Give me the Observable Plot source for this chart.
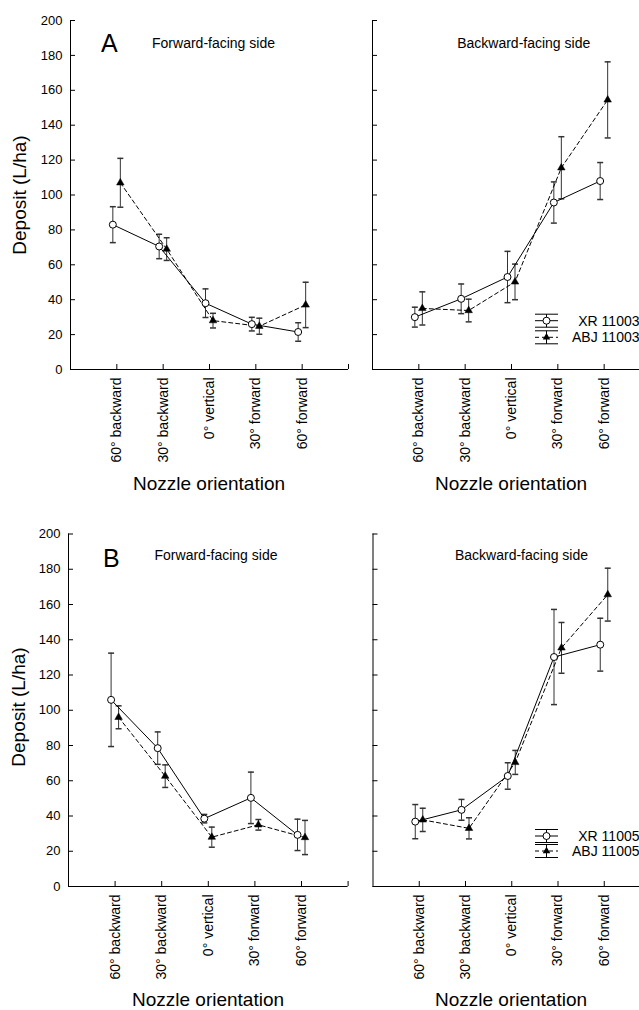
<!DOCTYPE html>
<html><head><meta charset="utf-8">
<script src="https://cdn.jsdelivr.net/npm/d3@7"></script>
<script src="https://cdn.jsdelivr.net/npm/@observablehq/plot@0.6"></script>
<style>
html,body{margin:0;padding:0;background:#fff;overflow:hidden}
#wrap{position:relative;width:639px;height:1010px;overflow:hidden;background:#fff}
#wrap svg{position:absolute}
</style></head><body><div id="wrap"></div>
<script>
// ---- data ----
const categories = ["60° backward", "30° backward", "0° vertical", "30° forward", "60° forward"];
const yTicks = [0, 20, 40, 60, 80, 100, 120, 140, 160, 180, 200];
const sideTitles = ["Forward-facing side", "Backward-facing side"];
const panelLetters = ["A", "B"];
const legendA = ["XR 11003", "ABJ 11003"];
const legendB = ["XR 11005", "ABJ 11005"];
const xTitle = "Nozzle orientation";
const yTitle = "Deposit (L/ha)";

// A, forward-facing side
const aFwdXR = [83, 70.5, 38, 26, 21.5];
const aFwdXRse = [10.3, 7, 8.2, 3.9, 5.3];
const aFwdABJ = [107, 69, 28, 24.8, 37];
const aFwdABJse = [14, 6.5, 4.2, 4.6, 13];
// A, backward-facing side
const aBwdXR = [30, 40.5, 53, 95.7, 108];
const aBwdXRse = [5.7, 8.5, 14.7, 11.8, 10.6];
const aBwdABJ = [35, 33.8, 50.2, 115.6, 154.5];
const aBwdABJse = [9.5, 6.5, 10.2, 17.8, 21.8];
// B, forward-facing side
const bFwdXR = [105.9, 78.5, 38.5, 50.3, 29.3];
const bFwdXRse = [26.5, 9.2, 2.4, 14.6, 8.9];
const bFwdABJ = [96, 62.6, 28, 35, 27.8];
const bFwdABJse = [6.5, 6.4, 5.7, 3, 9.7];
// B, backward-facing side
const bBwdXR = [36.8, 43.5, 62.7, 130.2, 137.2];
const bBwdXRse = [9.7, 5.9, 7.5, 27, 15];
const bBwdABJ = [37.8, 33, 70.4, 135.4, 165.6];
const bBwdABJse = [6.6, 6, 6.8, 14.4, 15];

// ---- drawing ----
const FONT = "'Liberation Sans', Arial, sans-serif";
const wrap = document.getElementById("wrap");
const capSymbol = {draw(ctx, size) { const r = Math.sqrt(size / Math.PI); ctx.moveTo(-r, 0); ctx.lineTo(r, 0); }};

function rows(means, ses) {
  return categories.map((c, i) => ({pos: i + 1, cat: c, mean: means[i], se: ses[i]}));
}

function panel({xr, xrSe, abj, abjSe, showY, left, top, width, height, marginLeft, marginRight, marginTop, marginBottom}) {
  const r1 = rows(xr, xrSe), r2 = rows(abj, abjSe);
  const fw = width - marginLeft - marginRight;
  const fh = height - marginTop - marginBottom;
  const dxA = -4, dxB = 3.5;
  const errMarks = (data, dx) => [
    Plot.ruleX(data, {x: "pos", y1: d => d.mean - d.se, y2: d => d.mean + d.se, dx, stroke: "#333", strokeWidth: 1}),
    Plot.dot(data, {x: "pos", y: d => d.mean + d.se, dx, symbol: capSymbol, r: 3, stroke: "#333", fill: "none"}),
    Plot.dot(data, {x: "pos", y: d => d.mean - d.se, dx, symbol: capSymbol, r: 3, stroke: "#333", fill: "none"})
  ];
  const svg = Plot.plot({
    width, height, marginLeft, marginRight, marginTop, marginBottom,
    style: {fontFamily: FONT, fontSize: "13px", color: "#000", background: "transparent", overflow: "visible"},
    x: {domain: [0, 6], axis: null},
    y: {domain: [0, 200], axis: null},
    marks: [
      Plot.ruleX([0], {stroke: "#000"}),
      Plot.ruleY([0], {stroke: "#000"}),
      Plot.tickY(yTicks, {y: d => d, insetRight: fw - 5, stroke: "#000"}),
      Plot.tickX([1, 2, 3, 4, 5, 6], {x: d => d, insetTop: fh - 5, stroke: "#000"}),
      showY ? Plot.axisY({ticks: yTicks, tickSize: 0, tickPadding: 8, fontSize: 13, label: null}) : null,
      Plot.axisX({ticks: [1, 2, 3, 4, 5], tickFormat: d => categories[d - 1], tickRotate: -90, tickSize: 0, tickPadding: 8, fontSize: 14, label: null}),
      ...errMarks(r1, dxA),
      ...errMarks(r2, dxB),
      Plot.line(r1, {x: "pos", y: "mean", dx: dxA, stroke: "#000", strokeWidth: 1}),
      Plot.line(r2, {x: "pos", y: "mean", dx: dxB, stroke: "#000", strokeWidth: 1, strokeDasharray: "4,3"}),
      Plot.dot(r1, {x: "pos", y: "mean", dx: dxA, r: 3.5, fill: "#fff", stroke: "#000", strokeWidth: 1}),
      Plot.dot(r2, {x: "pos", y: "mean", dx: dxB, r: 2.8, symbol: "triangle", fill: "#000", stroke: "#000", strokeWidth: 0.5})
    ]
  });
  svg.style.left = left + "px";
  svg.style.top = top + "px";
  wrap.appendChild(svg);
}

// top row: frame y 20..369
panel({xr: aFwdXR, xrSe: aFwdXRse, abj: aFwdABJ, abjSe: aFwdABJse, showY: true,
  left: 0, top: 0, width: 350, height: 500, marginLeft: 70, marginRight: 2, marginTop: 20, marginBottom: 131});
panel({xr: aBwdXR, xrSe: aBwdXRse, abj: aBwdABJ, abjSe: aBwdABJse, showY: false,
  left: 302, top: 0, width: 350, height: 500, marginLeft: 70, marginRight: 2, marginTop: 20, marginBottom: 131});
// bottom row: frame y 533.5..886
panel({xr: bFwdXR, xrSe: bFwdXRse, abj: bFwdABJ, abjSe: bFwdABJse, showY: true,
  left: 0, top: 500, width: 350, height: 510, marginLeft: 68, marginRight: 2.4, marginTop: 33.5, marginBottom: 124});
panel({xr: bBwdXR, xrSe: bBwdXRse, abj: bBwdABJ, abjSe: bBwdABJse, showY: false,
  left: 302, top: 500, width: 350, height: 510, marginLeft: 70.5, marginRight: 2, marginTop: 33.5, marginBottom: 124});

// ---- annotations & legends (overlay) ----
const ov = d3.select(wrap).append("svg")
  .attr("width", 639).attr("height", 1010)
  .style("left", "0px").style("top", "0px")
  .style("font-family", FONT).style("pointer-events", "none");

function txt(x, y, s, size, anchor, rot) {
  const t = ov.append("text").attr("x", x).attr("y", y).attr("font-size", size)
    .attr("text-anchor", anchor).attr("fill", "#000").text(s);
  if (rot) t.attr("transform", `rotate(${rot},${x},${y})`);
}
// row A
txt(101, 52, panelLetters[0], 25, "start");
txt(213.5, 48, sideTitles[0], 14, "middle");
txt(523.7, 48, sideTitles[1], 14, "middle");
txt(26, 195, yTitle, 19, "middle", -90);
txt(209, 490, xTitle, 19, "middle");
txt(511, 490, xTitle, 19, "middle");
// row B
txt(103, 567, panelLetters[1], 25, "start");
txt(216, 560, sideTitles[0], 14, "middle");
txt(521.5, 560, sideTitles[1], 14, "middle");
txt(24.5, 707, yTitle, 19, "middle", -90);
txt(208, 1006, xTitle, 19, "middle");
txt(511, 1006, xTitle, 19, "middle");

function legend(names, y0, y1) {
  const x0 = 535, x1 = 558, cx = (x0 + x1) / 2;
  [[y0, false], [y1, true]].forEach(([y, dashed], i) => {
    ov.append("line").attr("x1", x0).attr("x2", x1).attr("y1", y - 6.5).attr("y2", y - 6.5).attr("stroke", "#000");
    ov.append("line").attr("x1", x0).attr("x2", x1).attr("y1", y + 6.5).attr("y2", y + 6.5).attr("stroke", "#000");
    ov.append("line").attr("x1", cx).attr("x2", cx).attr("y1", y - 6.5).attr("y2", y + 6.5).attr("stroke", "#000");
    const l = ov.append("line").attr("x1", x0).attr("x2", x1).attr("y1", y).attr("y2", y).attr("stroke", "#000");
    if (dashed) l.attr("stroke-dasharray", "4,3");
    if (!dashed) {
      ov.append("circle").attr("cx", cx).attr("cy", y).attr("r", 3.5).attr("fill", "#fff").attr("stroke", "#000");
    } else {
      ov.append("path").attr("d", d3.symbol(d3.symbolTriangle, 2.8 * 2.8 * Math.PI)()).attr("transform", `translate(${cx},${y})`).attr("fill", "#000");
    }
    txt(639.5, y + 5, names[i], 14, "end");
  });
}
legend(legendA, 320.7, 337.3);
legend(legendB, 836, 851);
</script>
</body></html>
